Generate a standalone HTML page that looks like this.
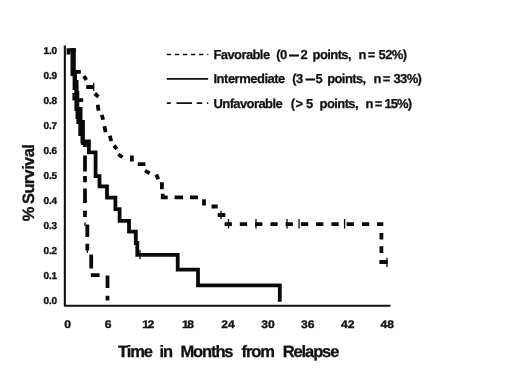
<!DOCTYPE html>
<html><head><meta charset="utf-8"><title>Survival</title>
<style>
html,body{margin:0;padding:0;background:#fff;}
body{width:520px;height:390px;overflow:hidden;}
svg{display:block;filter:blur(0.35px);}
text{text-rendering:geometricPrecision;font-family:"Liberation Sans",Arial,Helvetica,sans-serif;font-weight:bold;fill:#111;}
.yt{font-size:10px;letter-spacing:-0.1px;text-anchor:end;stroke:#111;stroke-width:.35px;}
.xt{font-size:11px;text-anchor:middle;stroke:#111;stroke-width:.35px;}
.lg{font-size:13px;letter-spacing:-0.6px;stroke:#111;stroke-width:.25px;}
.ttl{font-size:16px;stroke:#111;stroke-width:.3px;}
</style></head>
<body>
<svg width="520" height="390" viewBox="0 0 520 390">
<rect width="520" height="390" fill="#fff"/>
<!-- axes -->
<path d="M64.85 45.5 V305.7 H390.5" fill="none" stroke="#111" stroke-width="2.1" stroke-linejoin="round"/>
<!-- y tick labels -->
<g class="yt">
<text x="57.1" y="54.25">1.0</text>
<text x="57.1" y="79.25">0.9</text>
<text x="57.1" y="104.25">0.8</text>
<text x="57.1" y="129.25">0.7</text>
<text x="57.1" y="154.25">0.6</text>
<text x="57.1" y="179.25">0.5</text>
<text x="57.1" y="204.25">0.4</text>
<text x="57.1" y="229.25">0.3</text>
<text x="57.1" y="254.25">0.2</text>
<text x="57.1" y="279.25">0.1</text>
<text x="57.1" y="304.25">0.0</text>
</g>
<g class="xt">
<text transform="translate(67.7 328.1) scale(1.1 1)">0</text>
<text transform="translate(108 328.1) scale(1.1 1)">6</text>
<text transform="translate(148.3 328.1) scale(1.1 1)"><tspan letter-spacing="-1.4">1</tspan>2</text>
<text transform="translate(188 328.1) scale(1.1 1)"><tspan letter-spacing="-1.4">1</tspan>8</text>
<text transform="translate(228 328.1) scale(1.1 1)">24</text>
<text transform="translate(268 328.1) scale(1.1 1)">30</text>
<text transform="translate(307.7 328.1) scale(1.1 1)">36</text>
<text transform="translate(347.7 328.1) scale(1.1 1)">42</text>
<text transform="translate(387.3 328.1) scale(1.1 1)">48</text>
</g>
<g class="ttl" style="font-size:16.5px;letter-spacing:-1.1px">
<text x="118.1" y="357.2">Time</text>
<text x="159.6" y="357.2">in</text>
<text x="180.4" y="357.2">Months</text>
<text x="241.6" y="357.2">from</text>
<text x="282.7" y="357.2">Relapse</text>
</g>
<text class="ttl" style="font-size:16.5px;letter-spacing:-0.85px" transform="translate(34 221.3) rotate(-90)">%</text>
<text class="ttl" style="font-size:16.5px;letter-spacing:-0.63px" transform="translate(34 204) rotate(-90)">Survival</text>
<!-- legend -->
<g stroke="#111" stroke-width="1.7" fill="none">
<path d="M166.8 54.5 H208.3" stroke-dasharray="4.2 3.9"/>
<path d="M166.8 78.8 H208.2"/>
<path d="M166.8 103.1 H170.8 M176.5 103.1 H192 M196.8 103.1 H202.2 M207 103.1 H208.3"/>
</g>
<g class="lg">
<text y="59"><tspan x="213.5">Favorable</tspan> <tspan x="276.3">(0</tspan><tspan x="300.6">2</tspan> <tspan x="312.6">points,</tspan> <tspan x="358.6" letter-spacing="1.3">n=</tspan> <tspan x="378.5">52%)</tspan></text>
<text y="83.4"><tspan x="213.5" letter-spacing="-0.5">Intermediate</tspan> <tspan x="292.3">(3</tspan><tspan x="315.4">5</tspan> <tspan x="327.2">points,</tspan> <tspan x="373.4" letter-spacing="1.3">n=</tspan> <tspan x="393.4">33%)</tspan></text>
<text y="108.1"><tspan x="213.5">Unfavorable</tspan> <tspan x="290.7" letter-spacing="0.6">(&gt;</tspan> <tspan x="305.9">5</tspan> <tspan x="319.6">points,</tspan> <tspan x="365.6" letter-spacing="1.3">n=</tspan> <tspan x="384.4" letter-spacing="-0.9">15%)</tspan></text>
<text style="stroke-width:.8px" transform="translate(288.9 59) scale(1.38 1)">–</text>
<text style="stroke-width:.8px" transform="translate(305.4 83.4) scale(1.33 1)">–</text>
</g>
<!-- curves -->
<g fill="none" stroke="#0a0a0a" stroke-width="3.8" stroke-linejoin="miter">
<!-- shared start -->
<path d="M66.6 50.2 H75.8 M68.5 50 V54.4"/>
<!-- intermediate (solid) -->
<path id="mid" d="M70.5 50.2 H72.4 V74 H74.5 V88 H76.3 V109 H77.4 V117 H78.3 V122 H80.2 V134 H82.4 V141.5 H88.9 V152.3 H95.6 V176.2 H99.5 V186.3 H107 V197.7 H115.4 V209.2 H119.6 V220.8 H129 V231.6 H135.8 V243 H137.3 V254.8 H177.7 V269.6 H198 V285.3 H279.8 V301.8"/>
<!-- unfavorable (dash-dot), overlapping part -->
<path id="unf0" d="M72 50.2 H73.9 V74 H75.1 V82 H76.6 V93 H77.4 V100.2 H83.2 M77.4 100 V109 H80.6 V122 H83 V143 H85 V147"/>
<path id="unf" d="M85 155.4 V171.5 M85 176 V182.3 M85 188.5 V203 M85 210.8 V217 M87.3 224.6 V237 M87.3 243.8 V250.5 M91.2 254.6 V268.5 M90.8 275.2 H99.6 M107.5 275.6 V288 M107.5 295.8 V300.4"/>
<!-- favorable (dotted) -->
<path id="fav0" d="M72.4 71.9 H80.8"/>
<path id="fav" d="M84 76 L86.3 80 M86.2 87 H94 M94.8 93.5 L98.4 96.9 M97.7 104.8 L98.6 110.6 M101.7 114.9 L103.2 119.7 M104.4 126.2 L105.6 132.1 M109.9 135.8 L111.2 141.1 M114 145.5 L116.8 149.1 M118.3 154.3 L122.5 157.2 M131.9 155.4 V161.5 M137.7 164.2 H145.4 M145 170.5 L149.6 173.3 M156.3 174.5 L158.3 179.3 M161.9 182.3 V189.2 M162.7 193.8 V197.3 H167.7 M174.6 197.3 H183 M190 197.3 H198 M204 199.2 V205.4 M211.5 206.5 H217.7 M217.7 215 H225.4 M224.6 224.2 h7.3 M239.8 224.2 h7.3 M255.1 224.2 h7.3 M270.4 224.2 h7.3 M285.6 224.2 h7.3 M300.9 224.2 h7.3 M316.1 224.2 h7.3 M331.4 224.2 h7.3 M346.6 224.2 h7.3 M361.9 224.2 h7.3 M377 224.2 H383.3 M381.4 233 V239.5 M381.4 246.2 V253 M379.4 262 H387.5"/>
</g>
<path d="M73.7 93 V100.4" fill="none" stroke="#0a0a0a" stroke-width="2.6"/>
<!-- censor ticks -->
<g fill="none" stroke="#0a0a0a" stroke-width="1.3">
<path d="M93.7 82.7 V90.8 M221 210.8 V219.2 M228.5 219 V228.5 M256 219 V228.5 M287 219 V228.5 M299 219 V228.5 M344.6 219 V228.5 M387 257.7 V267 M140 250 V259.2 M85 222.5 V226 M87.3 250 V253"/>
</g>
</svg>
</body></html>
